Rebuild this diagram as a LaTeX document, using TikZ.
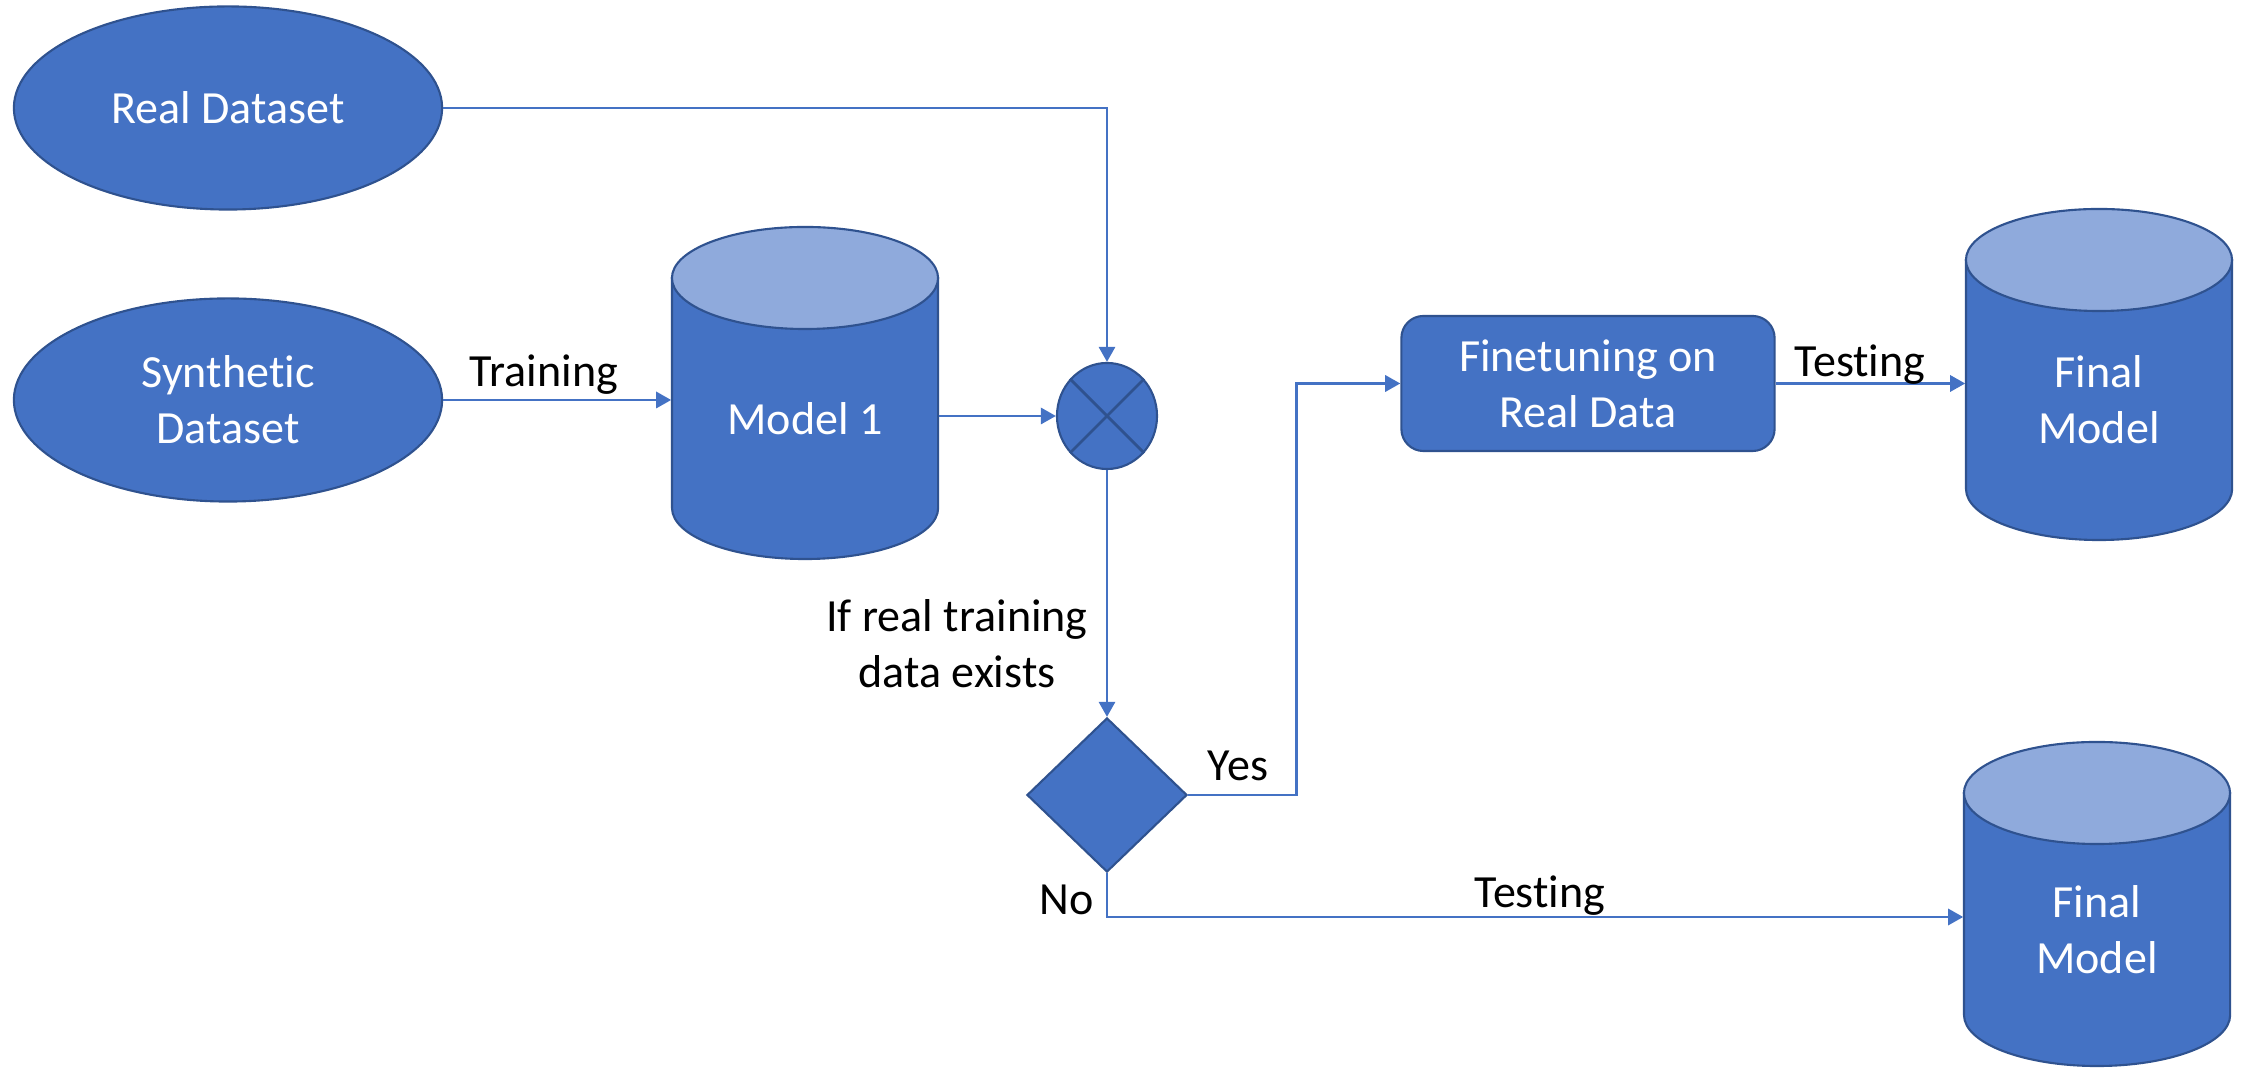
\documentclass[tikz,border=0pt]{standalone}
\usepackage{fontspec}
\setmainfont[Ligatures={NoCommon}]{Carlito}
\usetikzlibrary{shapes.geometric,arrows.meta,calc}

\definecolor{officeblue}{HTML}{4472C4}
\definecolor{lidblue}{HTML}{8FAADC}
\definecolor{edgeblue}{HTML}{2F528F}

\tikzset{
  x=0.01cm, y=-0.01cm,
  basefont/.style={font=\fontsize{13.1pt}{16pt}\selectfont},
  whitetext/.style={basefont, text=white, align=center, inner sep=0pt},
  labeltext/.style={basefont, text=black, align=center, inner sep=0pt},
  shapefill/.style={fill=officeblue, draw=edgeblue, line width=0.6pt},
  drumbody/.style={shapefill},
  drumlid/.style={fill=lidblue, draw=edgeblue, line width=0.6pt},
  dataset/.style={shapefill, ellipse, inner sep=0pt, minimum width=4.28cm, minimum height=2.03cm,
                  basefont, text=white, align=center},
  procbox/.style={shapefill, rectangle, rounded corners=0.22cm, inner sep=0pt,
                  minimum width=3.73cm, minimum height=1.35cm, basefont, text=white, align=center},
  junction/.style={shapefill, ellipse, inner sep=0pt, minimum width=1.0cm, minimum height=1.06cm},
  decision/.style={shapefill, diamond, inner sep=0pt, minimum width=1.6cm, minimum height=1.54cm},
  crossline/.style={draw=edgeblue, line width=0.8pt},
  flow/.style={draw=officeblue, line width=0.8pt, -{Triangle[length=4.3pt,width=4.6pt]}},
}

% cylinder: name, centre x, top y, bottom y, label
\newcommand\drumnode[5]{%
  \path[drumbody] ({#2-133},{#3+51}) -- ({#2-133},{#4-51})
     arc[start angle=180, end angle=360, x radius=1.33cm, y radius=0.51cm]
     -- ({#2+133},{#3+51}) -- cycle;
  \path[drumlid] (#2,{#3+51}) ellipse[x radius=1.33cm, y radius=0.51cm];
  \node[inner sep=0pt, minimum width=2.66cm, minimum height={(#4-#3)*0.01cm}] (#1) at (#2,{(#3+#4)/2}) {};
  \node[whitetext] (#1-text) at (#2,{(#3+51+#4)/2}) {#5};
}

\begin{document}
\begin{tikzpicture}
\useasboundingbox (0,0) rectangle (2244,1068);

% data sources
\node[dataset] (real) at (228,108) {Real Dataset};
\node[dataset] (synth) at (228,400) {Synthetic\\Dataset};

% models
\drumnode{model}{805}{227}{559}{Model 1}
\drumnode{finalA}{2099}{209}{540}{Final\\Model}
\drumnode{finalB}{2097}{742}{1066}{Final\\Model}

% combination and decision
\node[junction] (junc) at (1107,416) {};
\draw[crossline] (junc.45) -- (junc.225) (junc.135) -- (junc.315);
\node[decision] (dec) at (1107,795) {};

% fine-tuning step
\node[procbox] (fine) at (1588,383.5) {Finetuning on\\Real Data};

% connectors
\draw[flow] (real.east) -| (junc.north);
\draw[flow] (synth.east) -- (synth.east -| model.west);
\draw[flow] (junc.west -| model.east) -- (junc.west);
\draw[flow] (junc.south) -- (dec.north);
\draw[flow] (dec.east) -- ++(108,0) |- (fine.west);
\draw[flow] (fine.east) -- (fine.east -| finalA.west);
\draw[flow] (dec.south) |- ([yshift=-0.13cm]finalB.west);

% labels
\node[labeltext, anchor=base] (lbltrain) at (544,387) {Training};
\node[labeltext, anchor=base] (lbltestA) at (1860,377) {Testing};
\node[labeltext, anchor=base] (lbltestB) at (1540,908) {Testing};
\node[labeltext] (lblcond) at (957,644) {If real training\\data exists};
\node[labeltext, anchor=base] (lblyes) at (1238,781) {Yes};
\node[labeltext, anchor=base] (lblno) at (1067,915) {No};
\end{tikzpicture}
\end{document}
